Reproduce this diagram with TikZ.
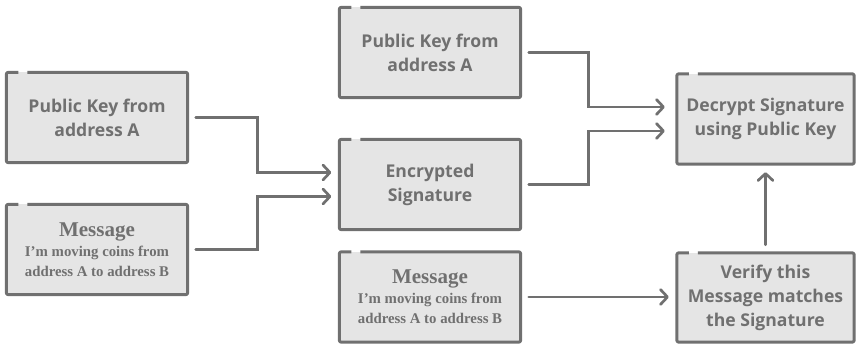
\documentclass[tikz,border=0pt]{standalone}
\usepackage{fontspec}
\usetikzlibrary{arrows.meta}
\newfontfamily\keyfont{Open Sans}
\newfontfamily\msgfont{Liberation Serif}
\definecolor{boxgray}{HTML}{E5E5E5}
\definecolor{linegray}{HTML}{707070}

\begin{document}
\begin{tikzpicture}[x=1pt,y=-1pt,
  box/.style={rectangle,fill=boxgray,minimum width=181pt,minimum height=90pt,
    inner sep=0pt,align=center,text=linegray},
  keytext/.style={font=\keyfont\bfseries\fontsize{17.6}{24}\selectfont},
  msgtext/.style={font=\msgfont\bfseries\fontsize{14.8}{20}\selectfont},
  rim/.style={draw=linegray,line width=3pt,rounded corners=2pt,line join=round},
  link/.style={draw=linegray,line width=2.7pt,line cap=round,
    -{Straight Barb[length=7pt,width=15pt,round]},shorten <=8pt,shorten >=8pt}]

\useasboundingbox (0,0) rectangle (857,344);

%boxes
\node [box,keytext] (keyleft) at (97,117.5) {Public Key from\\address A};
\node [box,msgtext] (msgleft) at (97,249.5) {{\fontsize{21}{22}\selectfont Message}\\I’m moving coins from\\address A to address B};
\node [box,keytext] (keytop) at (430,52.5) {Public Key from\\address A};
\node [box,keytext] (sig) at (430,184.5) {Encrypted\\Signature};
\node [box,msgtext] (msgbot) at (430,297) {{\fontsize{21}{22}\selectfont Message}\\I’m moving coins from\\address A to address B};
\node [box,keytext,minimum width=177pt] (decrypt) at (765.5,119) {Decrypt Signature\\using Public Key};
\node [box,keytext,minimum width=177pt,minimum height=89pt] (verify) at (765.5,297.5) {Verify this\\Message matches\\the Signature};

%rims with the little gap
\foreach \b in {keyleft,msgleft,keytop,sig,msgbot,decrypt,verify}
  \draw [rim] ([xshift=21pt]\b.north west) -- (\b.north east) -- (\b.south east)
    -- (\b.south west) -- (\b.north west) -- ([xshift=12pt]\b.north west);

%arrows
\draw [link] (keyleft.east) -- ++(70,0) |- ([yshift=12pt]sig.west);
\draw [link] (msgleft.east) -- ++(70,0) |- ([yshift=-12pt]sig.west);
\draw [link,shorten >=12pt] (keytop.east) -- ++(68,0) |- ([yshift=12pt]decrypt.west);
\draw [link,shorten >=12pt] (sig.east) -- ++(68,0) |- ([yshift=-12pt]decrypt.west);
\draw [link] (msgbot.east) -- (verify.west |- msgbot.east);
\draw [link] (verify.north) -- (decrypt.south);
\end{tikzpicture}
\end{document}
